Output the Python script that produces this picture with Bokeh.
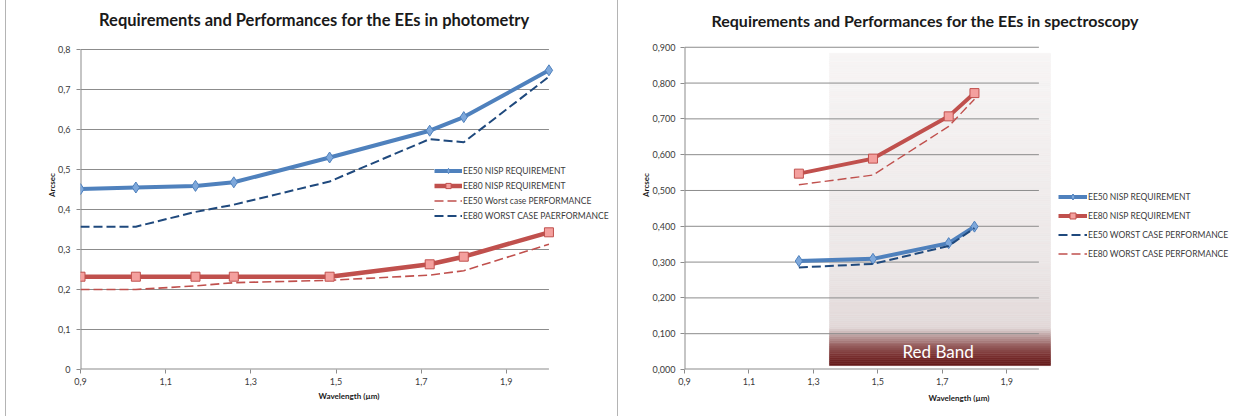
import numpy as np
from bokeh.plotting import figure
from bokeh.layouts import row
from bokeh.models import FixedTicker, Legend, LegendItem, Label, Spacer
from bokeh.embed import file_html
from bokeh.resources import INLINE

# ---------------- data: photometry ----------------
phot_wl = [0.90, 1.03, 1.17, 1.26, 1.485, 1.72, 1.80, 2.00]
phot_ee50_req = [0.451, 0.455, 0.459, 0.468, 0.530, 0.597, 0.631, 0.748]
phot_ee80_req = [0.232, 0.232, 0.232, 0.232, 0.232, 0.263, 0.282, 0.343]
phot_ee50_wc = [0.200, 0.200, 0.209, 0.217, 0.223, 0.236, 0.247, 0.313]
phot_ee80_wc = [0.357, 0.357, 0.394, 0.412, 0.470, 0.576, 0.568, 0.732]

# ---------------- data: spectroscopy ----------------
spec_wl = [1.255, 1.485, 1.72, 1.80]
spec_ee50_req = [0.303, 0.309, 0.353, 0.399]
spec_ee80_req = [0.547, 0.589, 0.707, 0.772]
spec_ee50_wc = [0.285, 0.295, 0.345, 0.395]
spec_ee80_wc = [0.516, 0.543, 0.679, 0.755]

# ---------------- ticks / axis extents ----------------
x_ticks = [0.9, 1.1, 1.3, 1.5, 1.7, 1.9]
x_tick_labels = ["0,9", "1,1", "1,3", "1,5", "1,7", "1,9"]
x_axis_end = 2.0
phot_y_ticks = [0.0, 0.1, 0.2, 0.3, 0.4, 0.5, 0.6, 0.7, 0.8]
phot_y_labels = ["0", "0,1", "0,2", "0,3", "0,4", "0,5", "0,6", "0,7", "0,8"]
spec_y_ticks = [0.0, 0.1, 0.2, 0.3, 0.4, 0.5, 0.6, 0.7, 0.8, 0.9]
spec_y_labels = ["0,000", "0,100", "0,200", "0,300", "0,400", "0,500",
                 "0,600", "0,700", "0,800", "0,900"]

# red band (wavelength interval and vertical extent of the shape)
band_x = [1.35, 2.036]
band_y = [0.011, 0.883]
band_label = "Red Band"

FONT = "Lato"
BLUE = "#4f81bd"
BLUE_FILL = "#7ea8db"
RED = "#c0504d"
RED_FILL = "#f4a09e"
DARK_BLUE = "#1f497d"
GRID = "#8c8c8c"
AXIS = "#8c8c8c"
TXT = "#3a3a3a"


def style_axes(p, y_ticks, y_labels):
    p.xaxis.ticker = FixedTicker(ticks=x_ticks)
    p.xaxis.major_label_overrides = dict(zip(x_ticks, x_tick_labels))
    p.yaxis.ticker = FixedTicker(ticks=y_ticks)
    p.yaxis.major_label_overrides = dict(zip(y_ticks, y_labels))
    for ax in (p.xaxis[0], p.yaxis[0]):
        ax.axis_line_color = None
        ax.major_tick_line_color = AXIS
        ax.minor_tick_line_color = None
        ax.major_tick_in = 0
        ax.major_tick_out = 4
        ax.major_label_text_font = FONT
        ax.major_label_text_font_size = "9px"
        ax.major_label_text_color = TXT
        ax.axis_label_text_font = FONT
        ax.axis_label_text_font_size = "8px"
        ax.axis_label_text_font_style = "bold"
        ax.axis_label_text_color = "#1a1a1a"
    p.xaxis.axis_label = "Wavelength (µm)"
    p.yaxis.axis_label = "Arcsec"
    p.xgrid.visible = False
    p.ygrid.visible = False
    p.outline_line_color = None
    p.background_fill_color = "white"
    p.border_fill_color = "white"
    # gridlines and axis lines (axis lines half-clipped at the frame edge)
    p.segment(x0=x_ticks[0], x1=x_axis_end, y0=y_ticks[1:], y1=y_ticks[1:],
              line_color=GRID, line_width=1)
    p.segment(x0=[x_ticks[0], x_ticks[0]], x1=[x_axis_end, x_ticks[0]],
              y0=[0, 0], y1=[0, y_ticks[-1]], line_color=AXIS, line_width=2)


# ================= photometry =================
p1 = figure(width=611, height=416, x_range=(0.9, 2.161), y_range=(0, 0.9225),
            min_border_left=74, min_border_right=0, min_border_top=0,
            min_border_bottom=47, output_backend="svg", toolbar_location=None,
            tools="")
style_axes(p1, phot_y_ticks, phot_y_labels)
p1.xaxis.major_label_standoff = 4
p1.xaxis.axis_label_standoff = 3
p1.yaxis.major_label_standoff = 6
p1.yaxis.axis_label_standoff = -2

r_wc80 = p1.line(phot_wl, phot_ee80_wc, line_color=DARK_BLUE, line_width=2,
                 line_dash="9 4")
r_wc50 = p1.line(phot_wl, phot_ee50_wc, line_color=RED, line_width=1.6,
                 line_dash="9 4")
r50 = p1.line(phot_wl, phot_ee50_req, line_color=BLUE, line_width=4)
m50 = p1.scatter(phot_wl, phot_ee50_req, marker="diamond", size=11,
                 fill_color=BLUE_FILL, line_color=BLUE, line_width=1)
r80 = p1.line(phot_wl, phot_ee80_req, line_color=RED, line_width=4.5)
m80 = p1.scatter(phot_wl, phot_ee80_req, marker="square", size=9,
                 fill_color=RED_FILL, line_color=RED, line_width=1)

leg1 = Legend(items=[
    LegendItem(label="EE50 NISP REQUIREMENT", renderers=[r50, m50]),
    LegendItem(label="EE80 NISP REQUIREMENT", renderers=[r80, m80]),
    LegendItem(label="EE50 Worst case PERFORMANCE", renderers=[r_wc50]),
    LegendItem(label="EE80 WORST CASE PAERFORMANCE", renderers=[r_wc80]),
], location=(354, 147), padding=3, margin=0, spacing=2, glyph_width=28,
    glyph_height=13, label_height=13, label_standoff=1,
    label_text_font=FONT, label_text_font_size="8.5px", label_text_color=TXT,
    border_line_color=None, background_fill_color="white",
    background_fill_alpha=1.0)
p1.add_layout(leg1)

p1.add_layout(Label(x=1.449, y=0.873,
                    text="Requirements and Performances for the EEs in photometry",
                    text_align="center", text_baseline="middle",
                    text_font=FONT, text_font_size="16.5px",
                    text_font_style="bold", text_color="#1a1a1a"))

# ================= separators / chart borders =================
pad = Spacer(width=5, height=416)
border_l = Spacer(width=1, height=416, styles={"background-color": "#b4b4b4"})
sep = Spacer(width=1, height=416, styles={"background-color": "#b4b4b4"})

# ================= spectroscopy =================
p2 = figure(width=615, height=416, x_range=(0.9, 2.604), y_range=(0, 1.0306),
            min_border_left=66, min_border_right=0, min_border_top=0,
            min_border_bottom=45, output_backend="svg", toolbar_location=None,
            tools="")

# gradient band built from thin horizontal slices (drawn beneath grid)
stops_y = [band_y[1], 0.30, 0.118, 0.10, 0.07, 0.04, band_y[0]]
stops_c = [(247, 245, 245), (236, 231, 231), (226, 217, 217),
           (196, 172, 172), (154, 100, 100), (122, 50, 50), (100, 25, 25)]
n = 160
edges = np.linspace(band_y[0], band_y[1], n + 1)
mids = (edges[:-1] + edges[1:]) / 2
sy = np.array(stops_y[::-1])
sc = np.array(stops_c[::-1], dtype=float)
cols = []
for m in mids:
    rgb = [np.interp(m, sy, sc[:, k]) for k in range(3)]
    cols.append("#%02x%02x%02x" % tuple(int(round(v)) for v in rgb))
p2.quad(left=band_x[0], right=band_x[1], bottom=edges[:-1], top=edges[1:],
        fill_color=cols, line_color=cols, line_width=0.6)

style_axes(p2, spec_y_ticks, spec_y_labels)
p2.xaxis.major_label_standoff = 4
p2.xaxis.axis_label_standoff = 5
p2.yaxis.major_label_standoff = 5
p2.yaxis.axis_label_standoff = -1

s50 = p2.line(spec_wl, spec_ee50_req, line_color=BLUE, line_width=4)
sm50 = p2.scatter(spec_wl, spec_ee50_req, marker="diamond", size=11,
                  fill_color=BLUE_FILL, line_color=BLUE, line_width=1)
s80 = p2.line(spec_wl, spec_ee80_req, line_color=RED, line_width=4)
sm80 = p2.scatter(spec_wl, spec_ee80_req, marker="square", size=9,
                  fill_color=RED_FILL, line_color=RED, line_width=1)
sw50 = p2.line(spec_wl, spec_ee50_wc, line_color=DARK_BLUE, line_width=2,
               line_dash="9 4")
sw80 = p2.line(spec_wl, spec_ee80_wc, line_color=RED, line_width=1.4,
               line_dash="9 4")

leg2 = Legend(items=[
    LegendItem(label="EE50 NISP REQUIREMENT", renderers=[s50, sm50]),
    LegendItem(label="EE80 NISP REQUIREMENT", renderers=[s80, sm80]),
    LegendItem(label="EE50 WORST CASE PERFORMANCE", renderers=[sw50]),
    LegendItem(label="EE80 WORST CASE PERFORMANCE", renderers=[sw80]),
], location=(374, 108), padding=0, margin=0, spacing=4, glyph_width=29,
    glyph_height=15, label_height=15, label_standoff=1,
    label_text_font=FONT, label_text_font_size="8.5px", label_text_color=TXT,
    border_line_color=None, background_fill_alpha=0.0)
p2.add_layout(leg2)

p2.add_layout(Label(x=1.687, y=0.051, text=band_label, text_align="center",
                    text_baseline="middle", text_font=FONT,
                    text_font_size="17px", text_color="white"))
p2.add_layout(Label(x=1.647, y=0.976,
                    text="Requirements and Performances for the EEs in spectroscopy",
                    text_align="center", text_baseline="middle",
                    text_font=FONT, text_font_size="16px",
                    text_font_style="bold", text_color="#1a1a1a"))

layout = row(pad, border_l, p1, sep, p2)
open("out.html", "w").write(file_html(layout, INLINE))
